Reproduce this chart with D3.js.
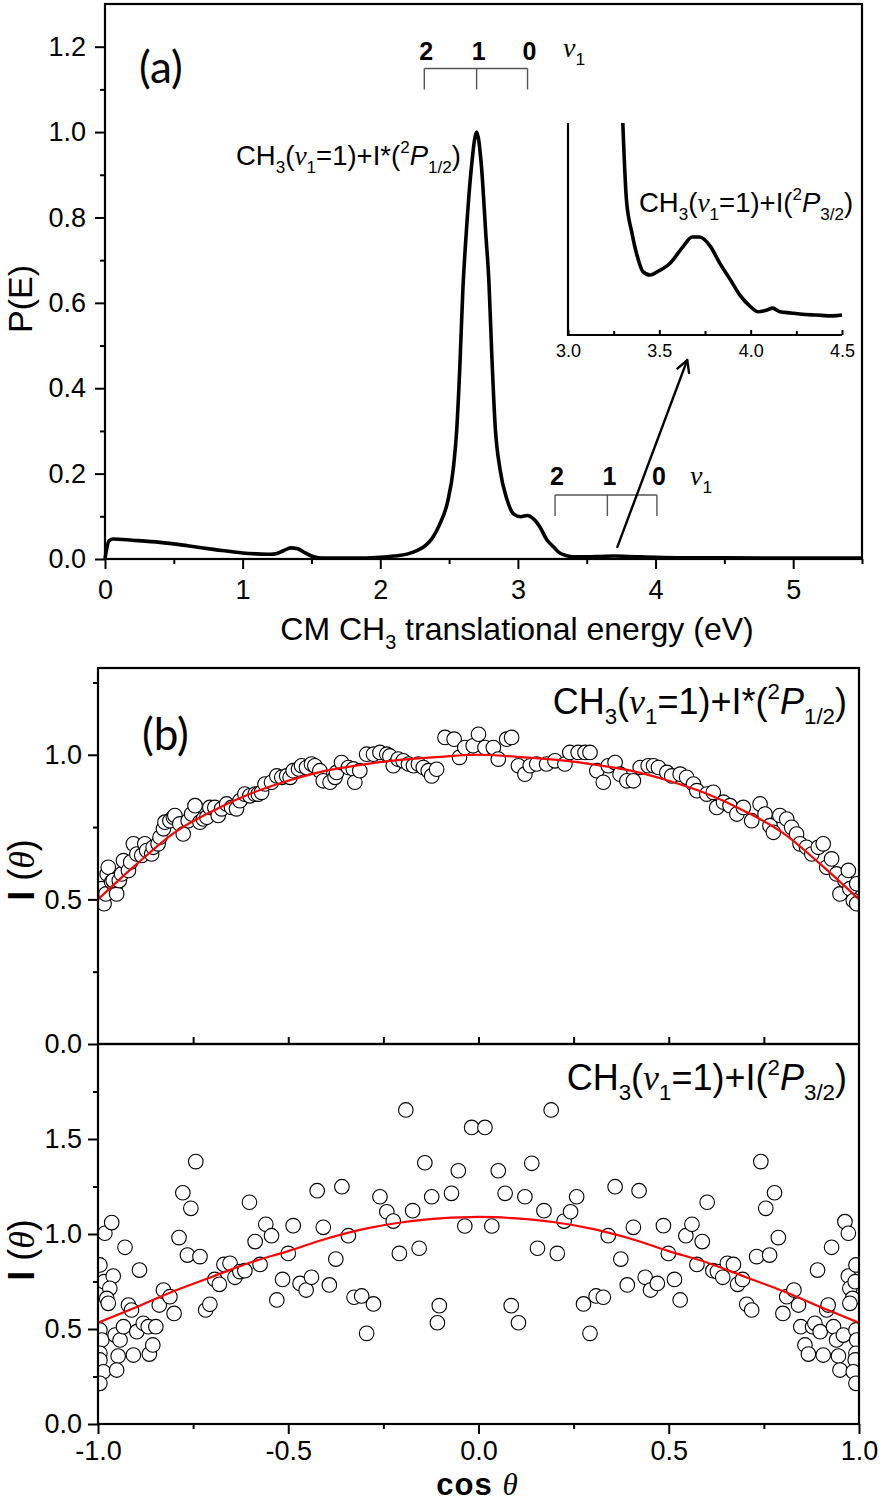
<!DOCTYPE html>
<meta charset="utf-8">
<style>
body { margin:0; background:#fff; }
text { font-family:"Liberation Sans", Arial, sans-serif; fill:#000; }
.axis text { font-size:27px; font-family:"Liberation Sans", Arial, sans-serif; }
.axis line { stroke:#000; stroke-width:2px; }
.axis.small text { font-size:18px; }
.frame { fill:none; stroke:#000; stroke-width:2.2px; }
.curve { fill:none; stroke:#000; stroke-width:3.6px; stroke-linejoin:round; }
.fit { fill:none; stroke:#ff0000; stroke-width:2.2px; }
.pt { fill:#fff; stroke:#000; stroke-width:1.1px; }
.bracket { fill:none; stroke:#555; stroke-width:1.4px; }
</style>
<body>
<script src="https://cdn.jsdelivr.net/npm/d3@7"></script>
<script>

// ---------- panel (a): P(E) ----------
var energyE = [0,0.01,0.03,0.06,0.2,0.4,0.6,0.8,1.0,1.1,1.2,1.25,1.3,1.35,1.4,1.45,1.5,1.55,1.6,1.8,2.0,
  2.1,2.2,2.27,2.33,2.38,2.43,2.49,2.53,2.555,2.578,2.60,2.626,2.663,2.70,2.735,2.767,2.79,2.81,2.835,2.87,
  2.92,2.97,3.02,3.07,3.11,3.16,3.21,3.26,3.30,3.35,3.40,3.5,3.6,3.7,3.8,3.9,4.0,4.2,4.5,5.0,5.5];
var energyP = [0,0.02,0.043,0.047,0.044,0.039,0.031,0.022,0.014,0.012,0.011,0.013,0.02,0.026,0.024,0.015,0.007,0.003,0.002,0.002,0.004,
  0.007,0.012,0.02,0.032,0.05,0.08,0.135,0.21,0.30,0.45,0.63,0.77,0.92,1.0,0.92,0.76,0.645,0.48,0.31,0.21,
  0.14,0.105,0.099,0.102,0.095,0.075,0.045,0.028,0.015,0.008,0.005,0.005,0.006,0.007,0.006,0.005,0.004,0.003,0.003,0.002,0.002];

// inset (zoom of 3.0 - 4.5 eV)
var insetE = [3.30,3.32,3.35,3.38,3.41,3.45,3.49,3.56,3.63,3.68,3.72,3.78,3.83,3.89,3.94,4.00,4.04,4.09,4.12,4.16,4.22,4.27,4.36,4.45,4.50];
var insetP = [0.0120,0.00837,0.00682,0.00569,0.00499,0.00483,0.00499,0.00540,0.00617,0.00662,0.00662,0.00617,0.00540,0.00459,
  0.00389,0.00333,0.00310,0.00318,0.00327,0.00310,0.00304,0.00299,0.00294,0.00290,0.00294];

var ticksAx = [0,1,2,3,4,5], minorAx = [0.5,1.5,2.5,3.5,4.5,5.5];
var ticksAy = [0,0.2,0.4,0.6,0.8,1.0,1.2], minorAy = [0.1,0.3,0.5,0.7,0.9,1.1];
var ticksInset = [3.0,3.5,4.0,4.5], minorInset = [3.25,3.75,4.25];

var bracketHigh = [2.32,2.70,3.07];   // v1 = 2,1,0 for I*
var bracketLow = [3.27,3.65,4.01];    // v1 = 2,1,0 for I
var bracketLabels = ["2","1","0"];
var arrowFrom = [3.72,0.026], arrowTo = [4.23,0.466];

// ---------- panel (b): angular distributions ----------
var fitCos = [-1,-0.9,-0.8,-0.7,-0.6,-0.5,-0.4,-0.3,-0.2,-0.1,0,0.1,0.2,0.3,0.4,0.5,0.6,0.7,0.8,0.9,1];
var fitIstar = [0.50,0.62,0.73,0.805,0.865,0.91,0.945,0.967,0.983,0.993,1.0,0.993,0.983,0.967,0.945,0.91,0.865,0.805,0.73,0.62,0.50];
var fitI = [0.533,0.615,0.70,0.775,0.85,0.91,0.975,1.027,1.062,1.082,1.09,1.082,1.062,1.027,0.975,0.91,0.85,0.775,0.70,0.615,0.533];

var ptsIstar = [[-0.990,0.537],[-0.988,0.508],[-0.984,0.485],[-0.979,0.519],[-0.976,0.588],[-0.973,0.611],[-0.964,0.560],
  [-0.955,0.542],[-0.951,0.519],[-0.960,0.565],[-0.944,0.565],[-0.938,0.588],[-0.933,0.634],[-0.920,0.600],[-0.914,0.629],
  [-0.907,0.692],[-0.898,0.657],[-0.885,0.652],[-0.877,0.692],[-0.872,0.669],[-0.859,0.657],[-0.855,0.680],[-0.842,0.692],
  [-0.837,0.715],[-0.828,0.744],[-0.824,0.767],[-0.811,0.772],[-0.802,0.784],[-0.798,0.790],[-0.785,0.761],[-0.776,0.726],
  [-0.763,0.772],[-0.754,0.795],[-0.745,0.824],[-0.732,0.767],[-0.723,0.778],[-0.714,0.784],[-0.706,0.818],[-0.693,0.818],
  [-0.684,0.790],[-0.675,0.813],[-0.662,0.830],[-0.649,0.818],[-0.636,0.813],[-0.627,0.841],[-0.614,0.864],[-0.601,0.858],
  [-0.587,0.864],[-0.579,0.864],[-0.570,0.870],[-0.561,0.899],[-0.544,0.905],[-0.530,0.927],[-0.517,0.922],[-0.504,0.927],
  [-0.495,0.922],[-0.487,0.945],[-0.473,0.951],[-0.465,0.962],[-0.452,0.956],[-0.439,0.968],[-0.430,0.962],[-0.417,0.945],
  [-0.408,0.910],[-0.390,0.905],[-0.377,0.922],[-0.373,0.939],[-0.360,0.973],[-0.342,0.956],[-0.329,0.951],[-0.325,0.905],
  [-0.312,0.945],[-0.294,1.002],[-0.276,1.002],[-0.259,1.008],[-0.241,1.002],[-0.233,0.996],[-0.224,0.962],[-0.211,0.985],
  [-0.198,0.979],[-0.184,0.968],[-0.171,0.962],[-0.158,0.968],[-0.145,0.956],[-0.132,0.945],[-0.123,0.927],[-0.110,0.950],
  [-0.088,1.060],[-0.064,1.054],[-0.050,0.991],[-0.036,1.025],[-0.014,1.031],[0.000,1.071],[0.017,1.025],[0.039,1.025],
  [0.052,0.985],[0.074,1.054],[0.087,1.060],[0.105,0.962],[0.122,0.933],[0.136,0.962],[0.153,0.968],[0.179,0.968],
  [0.201,0.979],[0.227,0.968],[0.240,1.008],[0.262,1.008],[0.280,1.008],[0.293,1.008],[0.311,0.945],[0.328,0.905],
  [0.341,0.962],[0.359,0.973],[0.372,0.933],[0.390,0.910],[0.407,0.910],[0.425,0.956],[0.446,0.962],[0.460,0.962],
  [0.473,0.956],[0.495,0.939],[0.508,0.927],[0.530,0.933],[0.547,0.922],[0.565,0.899],[0.574,0.876],[0.600,0.864],
  [0.617,0.870],[0.626,0.818],[0.644,0.836],[0.661,0.824],[0.679,0.795],[0.696,0.818],[0.718,0.772],[0.740,0.830],
  [0.753,0.795],[0.766,0.755],[0.775,0.732],[0.792,0.790],[0.810,0.778],[0.823,0.749],[0.836,0.726],[0.845,0.692],
  [0.862,0.680],[0.876,0.657],[0.893,0.680],[0.906,0.692],[0.915,0.611],[0.928,0.640],[0.941,0.588],[0.950,0.519],
  [0.963,0.565],[0.972,0.600],[0.976,0.537],[0.985,0.496],[0.994,0.554],[0.994,0.485]];

var ptsI = [[-0.995,0.837],[-0.982,1.004],[-0.964,1.060],[-0.984,0.749],[-0.960,0.779],[-0.969,0.714],[-0.977,0.661],
  [-0.973,0.635],[-0.995,0.495],[-0.990,0.442],[-0.995,0.372],[-0.995,0.337],[-0.986,0.275],[-0.995,0.214],[-0.955,0.468],
  [-0.942,0.442],[-0.947,0.358],[-0.951,0.284],[-0.933,0.512],[-0.929,0.930],[-0.920,0.626],[-0.912,0.600],[-0.907,0.363],
  [-0.898,0.486],[-0.891,0.810],[-0.881,0.530],[-0.868,0.512],[-0.865,0.368],[-0.856,0.416],[-0.848,0.512],[-0.839,0.626],
  [-0.828,0.705],[-0.811,0.670],[-0.800,0.582],[-0.787,0.981],[-0.777,1.217],[-0.765,0.889],[-0.756,1.135],[-0.743,1.381],
  [-0.732,0.881],[-0.717,0.600],[-0.706,0.630],[-0.693,0.761],[-0.681,0.735],[-0.669,0.840],[-0.653,0.846],[-0.640,0.772],
  [-0.627,0.802],[-0.614,0.807],[-0.602,1.167],[-0.587,0.960],[-0.574,0.840],[-0.559,1.051],[-0.544,0.991],[-0.530,0.653],
  [-0.515,0.761],[-0.500,0.898],[-0.487,1.044],[-0.469,0.740],[-0.453,0.705],[-0.439,0.772],[-0.424,1.228],[-0.408,1.035],
  [-0.392,0.732],[-0.375,0.868],[-0.359,1.249],[-0.342,0.991],[-0.327,0.667],[-0.307,0.674],[-0.294,0.477],[-0.276,0.632],
  [-0.259,1.196],[-0.241,1.117],[-0.224,1.068],[-0.208,0.898],[-0.191,1.653],[-0.173,1.123],[-0.156,0.925],[-0.141,1.375],
  [-0.123,1.196],[-0.108,0.533],[-0.103,0.623],
  [-0.071,1.214],[-0.053,1.333],[-0.036,1.042],[-0.018,1.561],[0.017,1.561],[0.035,1.042],[0.052,1.333],[0.070,1.214],
  [0.086,0.623],[0.105,0.533],[0.122,1.196],[0.140,1.372],[0.155,0.925],[0.172,1.123],[0.191,1.653],[0.207,0.898],
  [0.225,1.068],[0.242,1.117],[0.258,1.196],[0.276,0.632],[0.293,0.477],[0.309,0.674],[0.328,0.667],[0.341,0.991],
  [0.359,1.249],[0.374,0.868],[0.391,0.732],[0.407,1.035],[0.422,1.228],[0.438,0.772],[0.452,0.705],[0.470,0.740],
  [0.486,1.044],[0.499,0.898],[0.515,0.761],[0.530,0.653],[0.545,0.991],[0.561,1.051],[0.574,0.840],[0.588,0.960],
  [0.601,1.167],[0.616,0.807],[0.628,0.802],[0.642,0.772],[0.654,0.846],[0.670,0.840],[0.681,0.735],[0.694,0.761],
  [0.705,0.630],[0.718,0.600],[0.731,0.881],[0.742,1.381],[0.755,1.135],[0.765,0.889],[0.778,1.217],[0.788,0.981],
  [0.800,0.582],[0.810,0.670],[0.829,0.705],[0.841,0.626],[0.847,0.512],[0.858,0.416],[0.867,0.368],[0.878,0.512],
  [0.884,0.530],[0.891,0.810],[0.898,0.486],[0.906,0.363],[0.915,0.600],[0.919,0.626],[0.928,0.930],[0.933,0.512],
  [0.941,0.442],[0.946,0.358],[0.950,0.284],[0.959,0.468],[0.963,1.065],[0.972,0.779],[0.972,1.004],[0.976,0.714],
  [0.983,0.661],[0.976,0.635],[0.992,0.837],[0.990,0.749],[0.992,0.495],[0.994,0.442],[0.992,0.372],[0.990,0.337],
  [0.985,0.275],[0.992,0.214]];

var ticksBx = [-1,-0.5,0,0.5,1], minorBx = [-0.75,-0.25,0.25,0.75];
var innerBx = [-0.75,-0.5,-0.25,0,0.25,0.5,0.75];
var ticksB1y = [0,0.5,1.0], minorB1y = [0.25,0.75,1.25];
var ticksB2y = [0,0.5,1.0,1.5], minorB2y = [0.25,0.75,1.25,1.75];

var labelIstar = [["CH"],["3","sub"],["("],["ν","nu"],["1","sub"],["=1)+I*("],["2","sup"],["P","it"],["1/2","sub"],[")"]];
var labelI = [["CH"],["3","sub"],["("],["ν","nu"],["1","sub"],["=1)+I("],["2","sup"],["P","it"],["3/2","sub"],[")"]];

var svg = d3.select("body").append("svg").attr("width", 880).attr("height", 1503);

// text with sub/superscripts
function rich(sel, x, y, parts, size, anchor){
	var t = sel.append("text").attr("x", x).attr("y", y).attr("font-size", size)
		.attr("text-anchor", anchor || "start");
	var shift = 0;
	parts.forEach(function(p){
		var k = p[1];
		var target = k=="sub" ? 0.28*size : (k=="sup" ? -0.42*size : 0);
		var ts = t.append("tspan").attr("dy", target - shift).text(p[0]);
		shift = target;
		if(k=="sub" || k=="sup") ts.attr("font-size", size*0.62);
		if(k=="it") ts.attr("font-style","italic");
		if(k=="nu") ts.attr("font-style","italic").style("font-family","'Liberation Serif', serif");
	});
	return t;
}
function noDomain(g){ g.select(".domain").remove(); }

// ===== panel (a) =====
var xA = d3.scaleLinear().domain([0,5.5]).range([105,862]);
var yA = d3.scaleLinear().domain([0,1.3]).range([559,4]);

svg.append("g").attr("class","axis").attr("transform","translate(0,559)")
	.call(d3.axisBottom(xA).tickValues(ticksAx).tickSize(10).tickPadding(11).tickFormat(d3.format("d"))).call(noDomain);
svg.append("g").attr("class","axis").attr("transform","translate(0,559)")
	.call(d3.axisBottom(xA).tickValues(minorAx).tickSize(5).tickFormat("")).call(noDomain);
svg.append("g").attr("class","axis").attr("transform","translate(105,0)")
	.call(d3.axisLeft(yA).tickValues(ticksAy).tickSize(10).tickPadding(9).tickFormat(function(d){return d.toFixed(1);})).call(noDomain);
svg.append("g").attr("class","axis").attr("transform","translate(105,0)")
	.call(d3.axisLeft(yA).tickValues(minorAy).tickSize(5).tickFormat("")).call(noDomain);

svg.append("path").attr("class","curve")
	.datum(d3.zip(energyE, energyP))
	.attr("d", d3.line().x(function(d){return xA(d[0]);}).y(function(d){return yA(d[1]);}).curve(d3.curveMonotoneX));

svg.append("rect").attr("class","frame").attr("x",105).attr("y",4).attr("width",862-105).attr("height",559-4);

// vibrational brackets
function bracket(Es, yTop, len, labY, nuX, nuY){
	var g = svg.append("g");
	g.append("line").attr("class","bracket").attr("x1",xA(Es[0])).attr("x2",xA(Es[2])).attr("y1",yA(yTop)).attr("y2",yA(yTop));
	Es.forEach(function(e,i){
		g.append("line").attr("class","bracket").attr("x1",xA(e)).attr("x2",xA(e)).attr("y1",yA(yTop)).attr("y2",yA(yTop)+len);
		g.append("text").attr("x",xA(e)+2).attr("y",labY).attr("text-anchor","middle")
			.attr("font-size",25).attr("font-weight","bold").text(bracketLabels[i]);
	});
	rich(g, nuX, nuY, [["ν","nu"],["1","sub"]], 28);
}
bracket(bracketHigh, 1.149, 21, 60, 563, 57);
bracket(bracketLow, 0.150, 21, 485, 690, 485);

// arrow
var ax1 = xA(arrowFrom[0]), ay1 = yA(arrowFrom[1]), ax2 = xA(arrowTo[0]), ay2 = yA(arrowTo[1]);
var ang = Math.atan2(ay2-ay1, ax2-ax1);
svg.append("line").attr("x1",ax1).attr("y1",ay1).attr("x2",ax2).attr("y2",ay2)
	.attr("stroke","#000").attr("stroke-width",2.4);
[-0.5,0.5].forEach(function(a){
	svg.append("line").attr("x1",ax2).attr("y1",ay2)
		.attr("x2",ax2-13*Math.cos(ang+a)).attr("y2",ay2-13*Math.sin(ang+a))
		.attr("stroke","#000").attr("stroke-width",2.4).attr("stroke-linecap","round");
});

// inset
var xI = d3.scaleLinear().domain([3,4.5]).range([568,842]);
var yI = d3.scaleLinear().domain([0.002,0.012]).range([335,123]);
svg.append("g").attr("class","axis small").attr("transform","translate(0,335)")
	.call(d3.axisBottom(xI).tickValues(ticksInset).tickSizeInner(-5).tickSizeOuter(0).tickPadding(9)
		.tickFormat(function(d){return d.toFixed(1);})).call(noDomain);
svg.append("g").attr("class","axis").attr("transform","translate(0,335)")
	.call(d3.axisBottom(xI).tickValues(minorInset).tickSizeInner(-4).tickSizeOuter(0).tickFormat("")).call(noDomain);
svg.append("path").attr("fill","none").attr("stroke","#000").attr("stroke-width",2.2)
	.attr("d","M"+xI(3)+","+yI(0.012)+"V"+yI(0.002)+"H"+xI(4.5));
svg.append("path").attr("class","curve").attr("stroke-width",3.4)
	.datum(d3.zip(insetE, insetP))
	.attr("d", d3.line().x(function(d){return xI(d[0]);}).y(function(d){return yI(d[1]);}).curve(d3.curveMonotoneX));

// texts panel (a)
svg.append("text").attr("x",139).attr("y",83).attr("font-size",44).style("font-family","Lato, sans-serif").text("(a)");
rich(svg, 236, 165, labelIstar, 27.5);
rich(svg, 639, 212, labelI, 27.5);
rich(svg, 517, 640, [["CM CH"],["3","sub"],[" translational energy (eV)"]], 32, "middle");
svg.append("text").attr("transform","translate(32,299) rotate(-90)").attr("text-anchor","middle")
	.attr("font-size",34).text("P(E)");

// ===== panel (b) =====
var xB = d3.scaleLinear().domain([-1,1]).range([98,859]);
var yB1 = d3.scaleLinear().domain([0,1.3]).range([1044,668]);
var yB2 = d3.scaleLinear().domain([0,2]).range([1424,1044]);
var fmt1 = function(d){ return d.toFixed(1); };

var defs = svg.append("defs");
defs.append("clipPath").attr("id","clipB1").append("rect").attr("x",98).attr("y",668).attr("width",761).attr("height",376);
defs.append("clipPath").attr("id","clipB2").append("rect").attr("x",98).attr("y",1044).attr("width",761).attr("height",380);

function panelB(yS, pts, fit, ticks, minors, clip){
	svg.append("g").attr("class","axis").attr("transform","translate(98,0)")
		.call(d3.axisLeft(yS).tickValues(ticks).tickSize(10).tickPadding(6).tickFormat(fmt1)).call(noDomain);
	svg.append("g").attr("class","axis").attr("transform","translate(98,0)")
		.call(d3.axisLeft(yS).tickValues(minors).tickSize(5).tickFormat("")).call(noDomain);
	var g = svg.append("g").attr("clip-path","url(#"+clip+")");
	g.selectAll("circle").data(pts).enter().append("circle").attr("class","pt")
		.attr("cx",function(d){return xB(d[0]);}).attr("cy",function(d){return yS(d[1]);}).attr("r",7.3);
	g.append("path").attr("class","fit").datum(d3.zip(fitCos, fit))
		.attr("d", d3.line().x(function(d){return xB(d[0]);}).y(function(d){return yS(d[1]);}).curve(d3.curveMonotoneX));
}
panelB(yB1, ptsIstar, fitIstar, ticksB1y, minorB1y, "clipB1");
panelB(yB2, ptsI, fitI, ticksB2y, minorB2y, "clipB2");

// shared axis between the two panels (ticks point up)
svg.append("g").attr("class","axis").attr("transform","translate(0,1044)")
	.call(d3.axisTop(xB).tickValues(innerBx).tickSize(7).tickFormat("")).call(noDomain);
// bottom axis
svg.append("g").attr("class","axis").attr("transform","translate(0,1424)")
	.call(d3.axisBottom(xB).tickValues(ticksBx).tickSize(10).tickPadding(7).tickFormat(fmt1)).call(noDomain);
svg.append("g").attr("class","axis").attr("transform","translate(0,1424)")
	.call(d3.axisBottom(xB).tickValues(minorBx).tickSize(5).tickFormat("")).call(noDomain);

svg.append("rect").attr("class","frame").attr("x",98).attr("y",668).attr("width",761).attr("height",376);
svg.append("rect").attr("class","frame").attr("x",98).attr("y",1044).attr("width",761).attr("height",380);

svg.append("text").attr("x",142).attr("y",750).attr("font-size",44).style("font-family","Lato, sans-serif").text("(b)");
rich(svg, 847, 714, labelIstar, 36, "end");
rich(svg, 847, 1090, labelI, 36, "end");

function thetaLabel(cx, cy){
	var t = svg.append("text").attr("transform","translate("+cx+","+cy+") rotate(-90)")
		.attr("text-anchor","middle").attr("font-size",36);
	t.append("tspan").attr("font-weight","bold").text("I ");
	t.append("tspan").text("(");
	t.append("tspan").attr("font-style","italic").style("font-family","'Liberation Serif', serif").text("θ");
	t.append("tspan").text(")");
}
thetaLabel(34, 870);
thetaLabel(34, 1250);

var cosT = svg.append("text").attr("x",477).attr("y",1495).attr("text-anchor","middle").attr("font-size",31);
cosT.append("tspan").attr("font-weight","bold").attr("letter-spacing",1).text("cos ");
cosT.append("tspan").attr("font-style","italic").style("font-family","'Liberation Serif', serif").text("θ");

</script>
</body>
